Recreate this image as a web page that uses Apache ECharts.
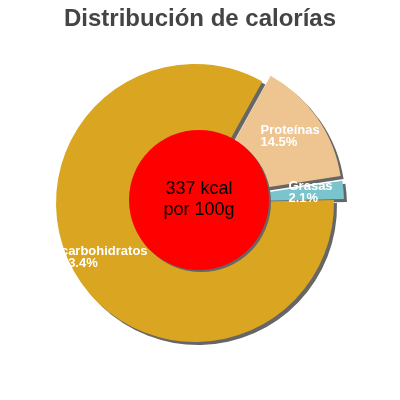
<!DOCTYPE html>
<html>
<head>
<meta charset="utf-8">
<script src="https://cdn.jsdelivr.net/npm/echarts@6/dist/echarts.min.js"></script>
<style>
html,body{margin:0;padding:0;background:#fff;}
#chart{width:400px;height:400px;}
</style>
</head>
<body>
<div id="chart"></div>
<script>
const titleText = 'Distribución de calorías';
const categories = ['Proteínas', 'Grasas', 'carbohidratos'];
const percents = [14.5, 2.1, 83.4];
const exploded = [true, true, false];
const sliceColors = ['#EEC591', '#7AC5CD', '#DAA520'];
const centerLines = ['337 kcal', 'por 100g'];

const sliceData = categories.map((name, i) => ({
  name: name,
  value: percents[i],
  selected: exploded[i],
  itemStyle: { color: sliceColors[i] }
}));
const labelData = categories.map((name, i) => ({
  name: name,
  value: percents[i],
  selected: exploded[i]
}));

const pieCommon = {
  type: 'pie',
  center: [195, 203],
  startAngle: 61,
  clockwise: true,
  selectedMode: 'multiple',
  selectedOffset: 10,
  animation: false,
  silent: true,
  emphasis: { disabled: true }
};

const labelTextStyle = {
  fontFamily: 'Liberation Sans',
  fontSize: 13,
  fontWeight: 'bold',
  lineHeight: 12,
  color: '#FFFFFF',
  align: 'left'
};

const chart = echarts.init(document.getElementById('chart'), null, { renderer: 'canvas' });
chart.setOption({
  animation: false,
  title: {
    text: titleText,
    left: 'center',
    top: 2,
    textStyle: { fontFamily: 'Liberation Sans', fontSize: 24, fontWeight: 'bold', color: '#444444' }
  },
  series: [
    Object.assign({}, pieCommon, {
      radius: [0, 139],
      z: 1,
      label: { show: false },
      labelLine: { show: false },
      itemStyle: { shadowColor: '#666666', shadowBlur: 0, shadowOffsetX: 3, shadowOffsetY: 3 },
      data: sliceData
    }),
    {
      type: 'pie',
      center: [199, 200],
      radius: [0, 70],
      z: 2,
      silent: true,
      animation: false,
      emphasis: { disabled: true },
      itemStyle: { color: '#FF0000', shadowColor: '#666666', shadowBlur: 0, shadowOffsetX: 2, shadowOffsetY: 2 },
      label: {
        show: true,
        position: 'center',
        formatter: centerLines.join('\n'),
        fontFamily: 'Liberation Sans',
        fontSize: 18,
        lineHeight: 21,
        color: '#000000'
      },
      labelLine: { show: false },
      data: [{ value: 1, name: 'kcal' }]
    },
    Object.assign({}, pieCommon, {
      radius: [67, 139],
      z: 3,
      itemStyle: { color: 'rgba(0,0,0,0)' },
      label: {
        show: true,
        position: 'inside',
        align: 'center',
        formatter: p => '{t|' + p.name + '}\n{t|' + p.value.toFixed(1) + '%}',
        fontFamily: 'Liberation Sans',
        fontSize: 13,
        fontWeight: 'bold',
        lineHeight: 12,
        color: '#FFFFFF',
        rich: { t: labelTextStyle }
      },
      labelLine: { show: false },
      data: labelData
    })
  ]
});
</script>
</body>
</html>
